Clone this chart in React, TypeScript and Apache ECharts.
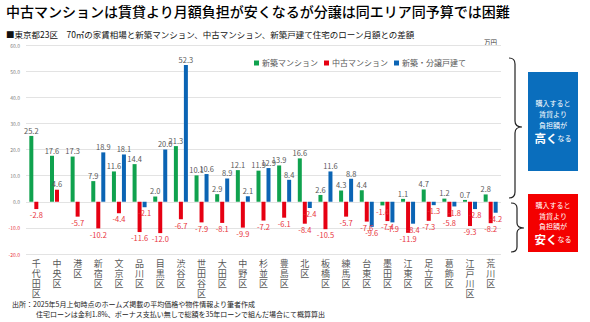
import React, { useEffect, useRef } from "react";
import * as echarts from "echarts";

const categories = ["千代田区", "中央区", "港区", "新宿区", "文京区", "品川区", "目黒区", "渋谷区", "世田谷区", "大田区", "中野区", "杉並区", "豊島区", "北区", "板橋区", "練馬区", "台東区", "墨田区", "江東区", "足立区", "葛飾区", "江戸川区", "荒川区"];
const newMansion = [25.2, 17.6, 17.3, 7.9, 11.6, 14.4, 2.0, 21.3, 10.1, 2.9, 12.1, 11.9, 13.9, 16.6, 2.6, 4.3, 4.4, -1.4, 1.1, 4.7, 1.2, 0.7, 2.8];
const usedMansion = [-2.8, 4.6, -5.7, -10.2, -4.4, -11.6, -12.0, -6.7, -7.9, -8.1, -9.9, -7.2, -6.1, -8.4, -10.5, -5.7, -7.6, -7.4, -11.9, -7.3, -5.8, -9.3, -8.2];
const newHouse: (number | null)[] = [null, null, null, 18.9, 18.1, -2.1, 20.0, 52.3, 10.6, 8.9, 2.1, 12.9, 8.4, -2.4, 11.6, 8.8, -9.6, -7.9, -8.4, -1.3, -1.8, -2.8, -4.2];
const seriesNames = ["新築マンション", "中古マンション", "新築・分譲戸建て"];
const seriesColors = ["#10a24e", "#e60012", "#0b64b4"];

const FONT = "'Noto Sans CJK JP', 'Noto Sans', sans-serif";
const POS_LABEL = "#595959";
const NEG_LABEL = "#e8343c";

const braceUp = "M509,58 Q515,58 515,64 L515,121 Q515,127 522,127 Q515,127 515,133 L515,192 Q515,198 509,198";
const braceDown = "M511,203 Q517,203 517,208 L517,223 Q517,228 524,228 Q517,228 517,233 L517,247 Q517,252 511,252";

let registered = false;
function registerShapes() {
  if (registered) return;
  echarts.graphic.registerShape("braceUp", echarts.graphic.extendPath(braceUp, {}) as any);
  echarts.graphic.registerShape("braceDown", echarts.graphic.extendPath(braceDown, {}) as any);
  registered = true;
}

function toItems(arr: (number | null)[]) {
  return arr.map((v) => {
    if (v === null) return "-";
    const neg = v < 0;
    return {
      value: v,
      label: {
        position: neg ? "bottom" : "top",
        color: neg ? NEG_LABEL : POS_LABEL,
      },
    };
  });
}

export default function App() {
  const ref = useRef<HTMLDivElement>(null);
  useEffect(() => {
    if (!ref.current) return;
    registerShapes();
    const chart = echarts.init(ref.current, null, { renderer: "svg" });
    const dataSets = [newMansion, usedMansion, newHouse];
    const boxText = (word: string) => `購入すると\n賃貸より\n負担額が\n{big|${word}}{small|なる}`;
    chart.setOption({
      animation: false,
      textStyle: { fontFamily: FONT },
      legend: {
        data: seriesNames,
        left: 249,
        top: 54,
        itemWidth: 5,
        itemHeight: 5,
        itemGap: 6,
        icon: "rect",
        textStyle: { fontSize: 8, color: "#595959", fontFamily: FONT, padding: [0, 0, 0, -2] },
      },
      grid: { left: 26, right: 89, top: 45, bottom: 68, containLabel: false },
      xAxis: {
        type: "category",
        data: categories,
        axisLine: { show: false },
        axisTick: { show: false },
        axisLabel: {
          interval: 0,
          margin: 4,
          fontSize: 9,
          lineHeight: 10,
          color: "#595959",
          fontFamily: FONT,
          verticalAlign: "top",
          formatter: (v: string) => v.split("").join("\n"),
        },
      },
      yAxis: {
        type: "value",
        min: -20,
        max: 60,
        interval: 10,
        axisLine: { show: false },
        axisTick: { show: false },
        splitLine: { lineStyle: { color: "#e3e3e3", width: 1 } },
        axisLabel: {
          fontSize: 5,
          margin: 6,
          fontFamily: FONT,
          formatter: (v: number) => v.toFixed(1),
          color: (v: any) => (Number(v) < 0 ? NEG_LABEL : "#808080"),
        },
      },
      series: dataSets.map((arr, i) => ({
        name: seriesNames[i],
        type: "bar",
        data: toItems(arr),
        barWidth: 4,
        barGap: "25%",
        itemStyle: { color: seriesColors[i] },
        label: {
          show: true,
          fontSize: 7.5,
          distance: 2,
          fontFamily: FONT,
          formatter: (p: any) => Number(p.value).toFixed(1),
        },
      })),
      graphic: [
        {
          type: "text",
          left: 6,
          top: 4,
          style: { text: "中古マンションは賃貸より月額負担が安くなるが分譲は同エリア同予算では困難", fontSize: 14, fontWeight: 500, fill: "#000", fontFamily: FONT },
        },
        {
          type: "text",
          left: 6,
          top: 30,
          style: { text: "■東京都23区　70㎡の家賃相場と新築マンション、中古マンション、新築戸建て住宅のローン月額との差額", fontSize: 8.5, fill: "#111", fontFamily: FONT },
        },
        {
          type: "text",
          left: 484,
          top: 39,
          style: { text: "万円", fontSize: 6.5, fill: "#404040", fontFamily: FONT },
        },
        { type: "braceUp", x: 0, y: 0, style: { stroke: "#222", fill: "none", lineWidth: 1.2 } },
        { type: "braceDown", x: 0, y: 0, style: { stroke: "#222", fill: "none", lineWidth: 1.2 } },
        { type: "rect", shape: { x: 528, y: 72, width: 50, height: 99 }, style: { fill: "#0a6ebd" } },
        { type: "rect", shape: { x: 528, y: 194, width: 50, height: 58 }, style: { fill: "#f40000" } },
        {
          type: "text",
          x: 553,
          y: 121,
          style: {
            text: boxText("高く"),
            fill: "#fff",
            fontSize: 7,
            lineHeight: 11,
            align: "center",
            verticalAlign: "middle",
            fontFamily: FONT,
            rich: {
              big: { fontSize: 11.5, fontWeight: "bold", fill: "#fff", lineHeight: 15, fontFamily: FONT },
              small: { fontSize: 7, fill: "#fff", lineHeight: 15, fontFamily: FONT },
            },
          },
        },
        {
          type: "text",
          x: 553,
          y: 223,
          style: {
            text: boxText("安く"),
            fill: "#fff",
            fontSize: 7,
            lineHeight: 10.5,
            align: "center",
            verticalAlign: "middle",
            fontFamily: FONT,
            rich: {
              big: { fontSize: 11.5, fontWeight: "bold", fill: "#fff", lineHeight: 15, fontFamily: FONT },
              small: { fontSize: 7, fill: "#fff", lineHeight: 15, fontFamily: FONT },
            },
          },
        },
        {
          type: "text",
          left: 12,
          top: 300,
          style: { text: "出所：2025年5月上旬時点のホームズ掲載の平均価格や物件情報より筆者作成", fontSize: 7, fill: "#222", fontFamily: FONT },
        },
        {
          type: "text",
          left: 36,
          top: 310,
          style: { text: "住宅ローンは金利1.8%、ボーナス支払い無しで総額を35年ローンで組んだ場合にて概算算出", fontSize: 7, fill: "#222", fontFamily: FONT },
        },
      ],
    });
    return () => chart.dispose();
  }, []);
  return <div ref={ref} style={{ position: "fixed", left: 0, top: 0, width: 590, height: 322, background: "#fff" }} />;
}
